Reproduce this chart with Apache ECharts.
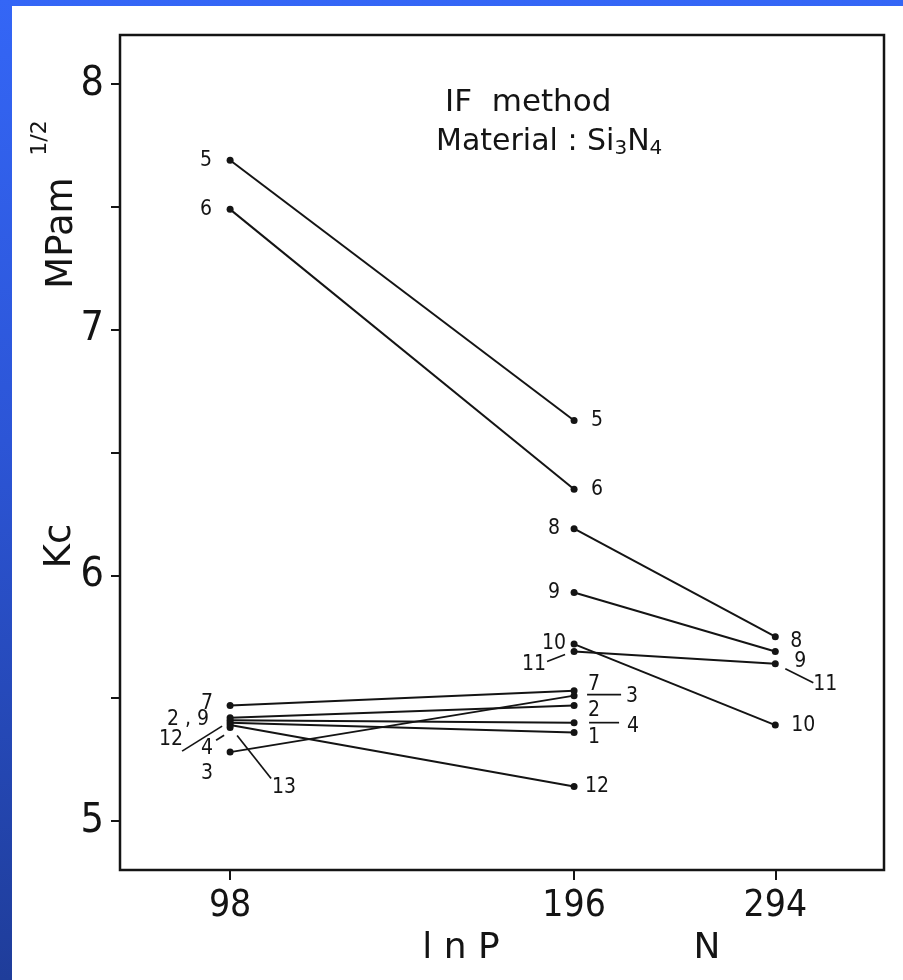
<!DOCTYPE html>
<html>
<head>
<meta charset="utf-8">
<script src="https://cdn.jsdelivr.net/npm/echarts@6/dist/echarts.min.js"></script>
<style>
html, body { margin: 0; padding: 0; }
body {
    width: 903px; height: 980px; position: relative; overflow: hidden;
    background: linear-gradient(to bottom, #3466f6 0%, #2c55d6 45%, #1f3d9a 100%);
}
#paper { position: absolute; left: 12px; top: 6px; right: 0; bottom: 0; background: #fff; }
#chart { position: absolute; left: 0; top: 0; width: 903px; height: 980px; }
</style>
</head>
<body>
<div id="paper"></div>
<div id="chart"></div>
<script>
// indentation load (N) and Kc values (MPa m^1/2) per sample, null = not measured
var loads = [98, 196, 294];
var s1 = [5.40, 5.36, null];
var s2 = [5.42, 5.47, null];
var s3 = [5.28, 5.51, null];
var s4 = [5.41, 5.40, null];
var s5 = [7.69, 6.63, null];
var s6 = [7.49, 6.35, null];
var s7 = [5.47, 5.53, null];
var s8 = [null, 6.19, 5.75];
var s9 = [null, 5.93, 5.69];
var s10 = [null, 5.72, 5.39];
var s11 = [null, 5.69, 5.64];
var s12 = [5.39, 5.14, null];
var s13 = [5.38, null, null];

var yTicks = [5, 5.5, 6, 6.5, 7, 7.5, 8];
var yLabels = [5, 6, 7, 8];

var samples = [
    ['1', s1], ['2', s2], ['3', s3], ['4', s4], ['5', s5], ['6', s6], ['7', s7],
    ['8', s8], ['9', s9], ['10', s10], ['11', s11], ['12', s12], ['13', s13]
];

var numFont = "'Liberation Sans Narrow', 'DejaVu Sans Condensed', sans-serif";
var ink = '#141414';

var myChart = echarts.init(document.getElementById('chart'), null, { renderer: 'canvas' });

var series = samples.map(function (s) {
    var pts = [];
    s[1].forEach(function (v, i) {
        if (v !== null) pts.push([Math.log(loads[i]), v]);
    });
    return {
        name: s[0],
        type: 'line',
        data: pts,
        symbol: 'circle',
        symbolSize: 7,
        showSymbol: true,
        silent: true,
        itemStyle: { color: ink },
        lineStyle: { color: ink, width: 2 },
        z: 3
    };
});

var option = {
    animation: false,
    backgroundColor: 'transparent',
    grid: {
        left: 120, top: 35, right: 19, bottom: 110,
        show: true, borderColor: ink, borderWidth: 2.5, backgroundColor: 'transparent'
    },
    xAxis: {
        type: 'value',
        min: Math.log(78.5),
        max: Math.log(366),
        axisLine: { show: false },
        splitLine: { show: false },
        axisTick: {
            show: true, inside: false, length: 10,
            customValues: loads.map(function (p) { return Math.log(p); }),
            lineStyle: { color: ink, width: 2 }
        },
        axisLabel: {
            customValues: loads.map(function (p) { return Math.log(p); }),
            formatter: function (v) { return String(Math.round(Math.exp(v))); },
            fontFamily: numFont, fontSize: 37, color: ink, margin: 18
        }
    },
    yAxis: {
        type: 'value',
        min: 4.8,
        max: 8.2,
        axisLine: { show: false },
        splitLine: { show: false },
        axisTick: {
            show: true, inside: false, length: 9,
            customValues: yTicks,
            lineStyle: { color: ink, width: 2 }
        },
        axisLabel: {
            customValues: yLabels,
            fontFamily: numFont, fontSize: 41, color: ink, margin: 16
        }
    },
    series: series
};
myChart.setOption(option);

// point labels: [sample, point index, text, dx, dy]
var tags = [
    ['5', 0, '5', -24, 0], ['6', 0, '6', -24, 0], ['7', 0, '7', -23, -2],
    ['2', 0, '2 , 9', -42, 2], ['12', 0, '12', -59, 14], ['4', 0, '4', -23, 28],
    ['3', 0, '3', -23, 21], ['13', 0, '13', 54, 60],
    ['5', 1, '5', 23, 0], ['6', 1, '6', 23, 0], ['8', 1, '8', -20, 0],
    ['9', 1, '9', -20, 0], ['10', 1, '10', -20, -1], ['11', 1, '11', -40, 13],
    ['7', 1, '7', 20, -6], ['2', 1, '2', 20, 5], ['3', 1, '3', 58, 1],
    ['4', 1, '4', 59, 4], ['1', 1, '1', 20, 5], ['12', 1, '12', 23, 0],
    ['8', 2, '8', 21, 5], ['9', 2, '9', 25, 10], ['11', 2, '11', 50, 21], ['10', 2, '10', 28, 0]
];
// leader lines: [sample, point index, x1, y1, x2, y2] relative to the point
var leaders = [
    ['12', 0, -48, 26, -8, 1], ['4', 0, -14, 20, -6, 15], ['13', 0, 7, 8, 41, 51],
    ['11', 1, -27, 10, -9, 3], ['3', 1, 13, -1, 47, -1], ['4', 1, 15, 0, 45, 0],
    ['11', 2, 10, 5, 38, 19]
];

function pointPx(name, idx) {
    var s = samples.filter(function (d) { return d[0] === name; })[0];
    return myChart.convertToPixel({ gridIndex: 0 }, [Math.log(loads[idx]), s[1][idx]]);
}

var g = [];
tags.forEach(function (t) {
    var p = pointPx(t[0], t[1]);
    g.push({
        type: 'text', x: p[0] + t[3], y: p[1] + t[4], silent: true,
        style: { text: t[2], fontFamily: numFont, fontSize: 21, fill: ink, align: 'center', verticalAlign: 'middle' }
    });
});
leaders.forEach(function (l) {
    var p = pointPx(l[0], l[1]);
    g.push({
        type: 'line', silent: true,
        shape: { x1: p[0] + l[2], y1: p[1] + l[3], x2: p[0] + l[4], y2: p[1] + l[5] },
        style: { stroke: ink, lineWidth: 1.7 }
    });
});

// titles and axis names
g.push({
    type: 'text', x: 445, y: 103, silent: true,
    style: { text: 'IF  method', font: "31px 'DejaVu Sans'", fill: ink, verticalAlign: 'middle' }
});
g.push({
    type: 'text', x: 436, y: 142, silent: true,
    style: {
        text: 'Material : Si{s|3}N{s|4}', font: "30px 'DejaVu Sans'", fill: ink, verticalAlign: 'middle',
        rich: { s: { fontFamily: 'DejaVu Sans', fontSize: 20, fill: ink, padding: [14, 0, 0, 0] } }
    }
});
g.push({
    type: 'text', x: 60, y: 546, rotation: Math.PI / 2, silent: true,
    style: { text: 'Kc', font: "37px 'DejaVu Sans'", fill: ink, align: 'center', verticalAlign: 'middle' }
});
g.push({
    type: 'text', x: 62, y: 233, rotation: Math.PI / 2, silent: true,
    style: { text: 'MPam', font: "37px 'DejaVu Sans'", fill: ink, align: 'center', verticalAlign: 'middle' }
});
g.push({
    type: 'text', x: 40, y: 138, rotation: Math.PI / 2, silent: true,
    style: { text: '1/2', font: "22px 'DejaVu Sans'", fill: ink, align: 'center', verticalAlign: 'middle' }
});
g.push({
    type: 'text', x: 461, y: 949, silent: true,
    style: { text: 'l n P', font: "36px 'DejaVu Sans'", fill: ink, align: 'center', verticalAlign: 'middle' }
});
g.push({
    type: 'text', x: 707, y: 949, silent: true,
    style: { text: 'N', font: "36px 'DejaVu Sans'", fill: ink, align: 'center', verticalAlign: 'middle' }
});

myChart.setOption({ graphic: g });
</script>
</body>
</html>
